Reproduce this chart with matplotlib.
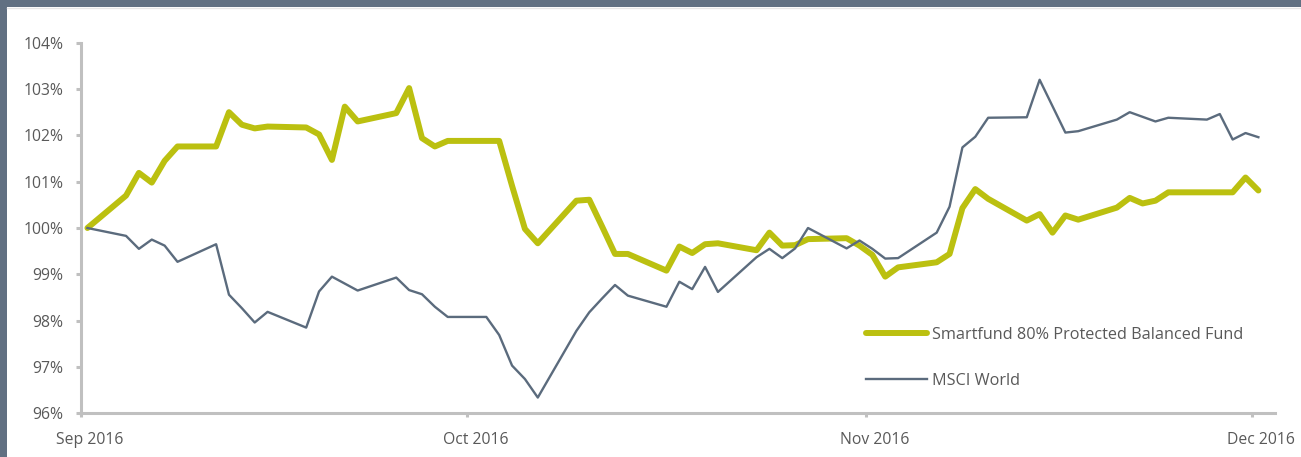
import matplotlib
matplotlib.use('Agg')
import matplotlib.pyplot as plt
import pandas as pd
from matplotlib.patches import Rectangle
from matplotlib.lines import Line2D
from matplotlib.transforms import ScaledTranslation

# data (business days, index = 100% at start)
dates = pd.bdate_range('2016-09-02', '2016-12-02')

fund = [100.00, 100.70, 101.19, 100.98, 101.45, 101.76, 101.76, 102.50, 102.23, 102.15,
        102.19, 102.17, 102.02, 101.47, 102.62, 102.30, 102.48, 103.02, 101.94, 101.76,
        101.88,
        101.88, 101.88, 100.91, 99.98, 99.67, 100.59, 100.61, 100.03, 99.44, 99.44,
        99.08, 99.60, 99.46, 99.65, 99.67, 99.52, 99.90, 99.62, 99.63, 99.76,
        99.78,
        99.62, 99.42, 98.95, 99.15, 99.26, 99.44, 100.43, 100.84, 100.63, 100.16,
        100.30, 99.90, 100.27, 100.18, 100.44, 100.65, 100.53, 100.59, 100.77, 100.77,
        100.77, 100.77,
        101.09, 100.81]

msci = [100.00, 99.83, 99.55, 99.75, 99.62, 99.27, 99.65, 98.56, 98.27, 97.96,
        98.19, 97.85, 98.63, 98.95, 98.80, 98.65, 98.93, 98.66, 98.57, 98.30,
        98.08,
        98.08, 97.69, 97.03, 96.74, 96.34, 97.78, 98.18, 98.48, 98.77, 98.54,
        98.30, 98.84, 98.68, 99.16, 98.62, 99.37, 99.55, 99.35, 99.56, 100.00,
        99.56,
        99.73, 99.55, 99.34, 99.35, 99.90, 100.46, 101.74, 101.97, 102.38, 102.39,
        103.20, 102.63, 102.06, 102.09, 102.34, 102.50, 102.40, 102.30, 102.38, 102.34,
        102.46, 101.91,
        102.05, 101.96]

series_names = ['Smartfund 80% Protected Balanced Fund', 'MSCI World']
month_labels = ['Sep 2016', 'Oct 2016', 'Nov 2016', 'Dec 2016']
y_ticks = [96, 97, 98, 99, 100, 101, 102, 103, 104]

assert len(dates) == len(fund) == len(msci)

GREEN = '#bbc010'
GREY = '#5b6b7d'
BORDER = '#617082'
AXIS = '#c0c0c0'
TEXT = '#595959'

plt.rcParams['font.family'] = ['Open Sans', 'DejaVu Sans']
plt.rcParams['font.size'] = 11.3

W, H = 1301, 457
fig = plt.figure(figsize=(W / 100, H / 100), dpi=100)
fig.patch.set_facecolor('white')

# dark frame on top and left like the source slide
fig.add_artist(Rectangle((0, 1 - 7 / H), 1, 7 / H, transform=fig.transFigure,
                         facecolor=BORDER, edgecolor='none'))
fig.add_artist(Rectangle((0, 0), 6.5 / W, 1, transform=fig.transFigure,
                         facecolor=BORDER, edgecolor='none'))
fig.add_artist(Line2D([6.5 / W, 1], [1 - 8 / H, 1 - 8 / H], transform=fig.transFigure,
                      color='#e6e6e6', lw=1))

ax = fig.add_axes([81 / W, 1 - 413.3 / H, (1275 - 81) / W, (413.3 - 42.7) / H])

ax.plot(dates, fund, color=GREEN, lw=4.3, solid_joinstyle='round',
        solid_capstyle='round', label=series_names[0])
ax.plot(dates, msci, color=GREY, lw=1.7, solid_joinstyle='round',
        label=series_names[1])

ax.set_ylim(96, 104)
ax.set_yticks(y_ticks)
ax.set_yticklabels([f'{v}%' for v in y_ticks])

# month ticks sit in the middle of the first day slot
month_pos = pd.date_range('2016-09-01', periods=len(month_labels), freq='MS') + pd.Timedelta(hours=12)
ax.set_xlim(pd.Timestamp('2016-09-01 12:00'), pd.Timestamp('2016-12-03 07:00'))
ax.set_xticks(month_pos)
ax.set_xticklabels([])
# labels a bit right of the tick, as in the original
lab_tr = ax.get_xaxis_transform() + ScaledTranslation(9 / 100, -19 / 100, fig.dpi_scale_trans)
for pos, txt in zip(month_pos, month_labels):
    ax.text(pos, 0, txt, transform=lab_tr, ha='center', va='top', color=TEXT,
            fontsize=11.3, clip_on=False)

for side in ['top', 'right']:
    ax.spines[side].set_visible(False)
for side in ['left', 'bottom']:
    ax.spines[side].set_color(AXIS)
    ax.spines[side].set_linewidth(2.2)

ax.tick_params(axis='y', length=3.6, width=2.2, color=AXIS, labelcolor=TEXT, pad=9)
ax.tick_params(axis='x', length=3, width=2.2, color=AXIS)

ax.legend(loc='upper left', bbox_to_anchor=(866 / W, 1 - 327 / H),
          bbox_transform=fig.transFigure, frameon=False, fontsize=11.7,
          handlelength=3.75, handletextpad=0.3, labelspacing=1.85,
          borderpad=0, borderaxespad=0, labelcolor=TEXT)

fig.savefig('out.png', dpi=100)
